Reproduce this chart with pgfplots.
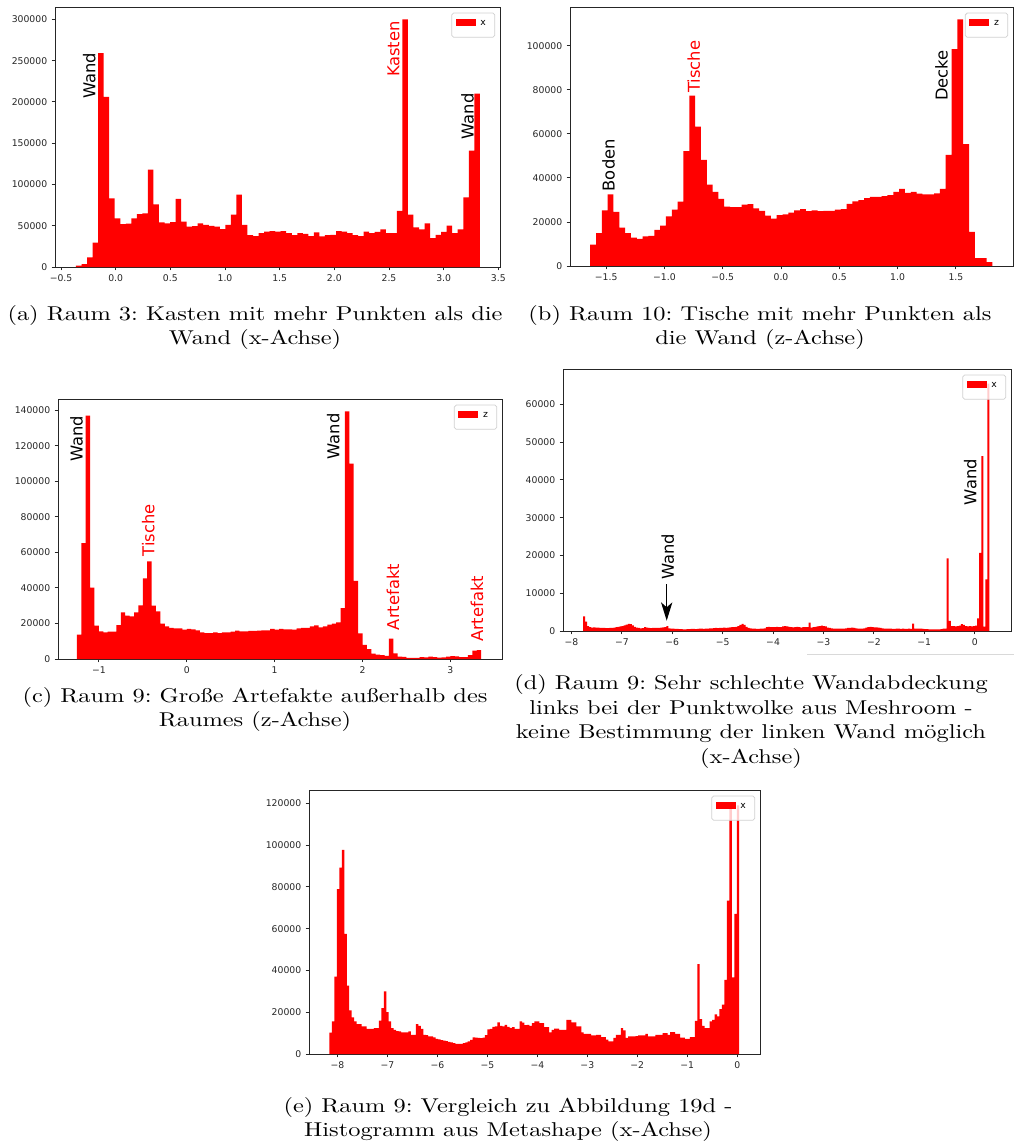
\documentclass[border=0pt]{standalone}
\usepackage{fontspec}
\usepackage{pgfplots}
\pgfplotsset{compat=1.18}
\usepackage{pgfplotstable}
\usetikzlibrary{arrows.meta}
\newfontfamily\djv{DejaVu Sans}
\newcommand\tf{\djv\fontsize{3.8pt}{4.5pt}\selectfont}
\newcommand\af{\djv\fontsize{6.7pt}{8pt}\selectfont}
\newcommand\cf{\fontsize{10pt}{12pt}\selectfont\frenchspacing}

% (a) Raum 3, x-axis histogram, 73 bins
\pgfplotstableread[row sep=\\]{y\\
1600\\ 3600\\ 11700\\ 29500\\ 259000\\ 206000\\ 83000\\ 59000\\ 52000\\ 52500\\
59000\\ 64000\\ 65000\\ 118000\\ 76000\\ 54000\\ 53000\\ 54500\\ 82500\\ 55000\\
49000\\ 49500\\ 53000\\ 51000\\ 49700\\ 49000\\ 46000\\ 51000\\ 63500\\ 87700\\
51000\\ 38500\\ 37500\\ 41000\\ 43000\\ 43500\\ 43000\\ 43500\\ 41000\\ 38500\\
41000\\ 40000\\ 37500\\ 42000\\ 37000\\ 38500\\ 39000\\ 43500\\ 43000\\ 41000\\
38500\\ 37500\\ 43000\\ 41000\\ 42500\\ 45500\\ 41000\\ 41000\\ 68000\\ 300000\\
63500\\ 48000\\ 45500\\ 53000\\ 35000\\ 39000\\ 42500\\ 50000\\ 41000\\ 45500\\
84500\\ 141000\\ 210000\\ 210000\\
}\dataA

% (b) Raum 10, z-axis histogram, 69 bins
\pgfplotstableread[row sep=\\]{y\\
9700\\ 14900\\ 25300\\ 32500\\ 24600\\ 17400\\ 14900\\ 12900\\ 12300\\ 13500\\
13700\\ 16400\\ 18400\\ 22600\\ 25600\\ 29300\\ 52200\\ 77400\\ 63300\\ 48200\\
37000\\ 33700\\ 30500\\ 27000\\ 26700\\ 26700\\ 27900\\ 28100\\ 26200\\ 25000\\
22900\\ 21500\\ 23100\\ 23500\\ 24300\\ 25300\\ 25900\\ 24900\\ 25300\\ 24900\\
25000\\ 25000\\ 25600\\ 25900\\ 28200\\ 29400\\ 29900\\ 30900\\ 31400\\ 31400\\
31700\\ 32200\\ 33700\\ 35000\\ 33200\\ 33700\\ 32900\\ 32500\\ 32500\\ 33000\\
35000\\ 50500\\ 98600\\ 112100\\ 55400\\ 15500\\ 3600\\ 3600\\ 1800\\ 1800\\
}\dataB

% (c) Raum 9, z-axis histogram, 92 bins
\pgfplotstableread[row sep=\\]{y\\
13700\\ 65300\\ 137000\\ 40200\\ 18800\\ 15600\\ 15000\\ 15400\\ 15400\\ 19100\\
26300\\ 24400\\ 24000\\ 26300\\ 30200\\ 45400\\ 55000\\ 30000\\ 26800\\ 19900\\
18400\\ 17500\\ 17300\\ 17300\\ 16500\\ 16900\\ 16700\\ 16100\\ 15000\\ 14600\\
14600\\ 15000\\ 14600\\ 15000\\ 15000\\ 15400\\ 16000\\ 15600\\ 15600\\ 15800\\
15800\\ 16000\\ 16100\\ 16100\\ 16900\\ 16500\\ 16900\\ 16700\\ 16700\\ 16500\\
17300\\ 17500\\ 17500\\ 18400\\ 19000\\ 17800\\ 18400\\ 19300\\ 19900\\ 20600\\
28700\\ 139500\\ 110000\\ 44000\\ 14500\\ 8000\\ 5500\\ 3000\\ 2500\\ 2200\\
1800\\ 11500\\ 3200\\ 1300\\ 1200\\ 600\\ 600\\ 700\\ 1000\\ 900\\
1300\\ 1100\\ 800\\ 900\\ 1300\\ 1600\\ 1500\\ 1000\\ 1100\\ 2200\\
4700\\ 5000\\ 5000\\
}\dataC

% (d) Raum 9 Meshroom, x-axis histogram, 200 bins
\pgfplotstableread[row sep=\\]{y\\
3880\\ 2500\\ 1300\\ 1000\\ 900\\ 950\\ 900\\ 880\\ 850\\ 800\\
800\\ 780\\ 750\\ 800\\ 850\\ 900\\ 1000\\ 1100\\ 1200\\ 1300\\
1500\\ 1700\\ 1900\\ 1800\\ 1500\\ 1100\\ 900\\ 800\\ 700\\ 750\\
1000\\ 900\\ 800\\ 750\\ 800\\ 850\\ 800\\ 850\\ 900\\ 950\\
1000\\ 1300\\ 700\\ 600\\ 600\\ 550\\ 550\\ 500\\ 500\\ 450\\
450\\ 500\\ 500\\ 550\\ 550\\ 500\\ 550\\ 600\\ 600\\ 550\\
600\\ 650\\ 700\\ 700\\ 750\\ 800\\ 750\\ 800\\ 850\\ 900\\
850\\ 900\\ 950\\ 1000\\ 1050\\ 1100\\ 1300\\ 1600\\ 1900\\ 1600\\
1100\\ 800\\ 700\\ 650\\ 600\\ 550\\ 550\\ 600\\ 600\\ 700\\
1000\\ 1100\\ 1000\\ 1050\\ 1000\\ 1100\\ 1000\\ 1000\\ 1200\\ 1300\\
1200\\ 1100\\ 1000\\ 950\\ 1000\\ 1100\\ 1000\\ 900\\ 1000\\ 1050\\
1000\\ 2200\\ 900\\ 1000\\ 1100\\ 1200\\ 1300\\ 1400\\ 1300\\ 1200\\
900\\ 800\\ 700\\ 650\\ 650\\ 600\\ 600\\ 600\\ 650\\ 700\\
800\\ 850\\ 900\\ 800\\ 700\\ 650\\ 600\\ 650\\ 700\\ 900\\
1000\\ 1100\\ 1000\\ 950\\ 950\\ 900\\ 850\\ 700\\ 650\\ 600\\
600\\ 600\\ 550\\ 550\\ 600\\ 600\\ 550\\ 600\\ 550\\ 550\\
600\\ 550\\ 1940\\ 600\\ 650\\ 600\\ 600\\ 550\\ 500\\ 500\\
450\\ 450\\ 450\\ 400\\ 400\\ 450\\ 500\\ 600\\ 600\\ 19240\\
2700\\ 1300\\ 1300\\ 1250\\ 1300\\ 1400\\ 1850\\ 1600\\ 1300\\ 1200\\
1300\\ 1250\\ 1300\\ 1400\\ 3350\\ 20700\\ 46300\\ 1150\\ 13700\\ 65500\\
65500\\
}\dataD

% (e) Raum 9 Metashape, x-axis histogram, 166 bins
\pgfplotstableread[row sep=\\]{y\\
10200\\ 15600\\ 37100\\ 78900\\ 89300\\ 97700\\ 57500\\ 32800\\ 20900\\ 17500\\
15600\\ 14300\\ 14300\\ 13200\\ 13200\\ 12000\\ 12000\\ 12000\\ 12400\\ 12400\\
16000\\ 22000\\ 30000\\ 20000\\ 15600\\ 12400\\ 11600\\ 11000\\ 10800\\ 10400\\
10400\\ 10400\\ 10800\\ 9200\\ 9200\\ 14300\\ 13500\\ 12000\\ 9200\\ 9000\\
8500\\ 8400\\ 8000\\ 7200\\ 7000\\ 6600\\ 6400\\ 6200\\ 5800\\ 5600\\
5200\\ 4900\\ 4900\\ 4900\\ 5200\\ 5600\\ 6100\\ 6800\\ 8000\\ 7800\\
7700\\ 7600\\ 7900\\ 9000\\ 11800\\ 12000\\ 13000\\ 13200\\ 15100\\ 13500\\
13200\\ 14000\\ 13000\\ 12500\\ 12900\\ 12000\\ 12000\\ 15600\\ 15000\\ 13800\\
14000\\ 13500\\ 14800\\ 15600\\ 15600\\ 14800\\ 14800\\ 12900\\ 12900\\ 10400\\
11600\\ 12100\\ 12100\\ 11600\\ 11600\\ 11600\\ 16400\\ 16400\\ 15100\\ 15100\\
13200\\ 13200\\ 10400\\ 9700\\ 9700\\ 9700\\ 8900\\ 8900\\ 9200\\ 9200\\
8100\\ 8100\\ 6900\\ 6100\\ 6100\\ 7700\\ 9200\\ 9200\\ 12400\\ 11300\\
7700\\ 8400\\ 8400\\ 8400\\ 8600\\ 8900\\ 8900\\ 8900\\ 9700\\ 8400\\
8400\\ 8400\\ 9200\\ 9200\\ 9200\\ 10000\\ 10000\\ 9200\\ 10500\\ 10500\\
9600\\ 9600\\ 7800\\ 7800\\ 7300\\ 7300\\ 8100\\ 8100\\ 15900\\ 43000\\
16700\\ 13500\\ 12400\\ 12400\\ 15600\\ 16400\\ 19000\\ 18000\\ 21500\\ 23600\\
35500\\ 73500\\ 120400\\ 36700\\ 67100\\ 119000\\ 119000\\
}\dataE

\pgfplotsset{
  histo/.style={
    scale only axis,
    anchor=south west,
    ymin=0,
    axis line style={black!85, line width=0.4pt},
    every tick/.style={black!85, line width=0.4pt},
    tick align=outside,
    major tick length=1.4pt,
    xtick pos=bottom, ytick pos=left,
    scaled x ticks=false, scaled y ticks=false,
    xticklabel style={font=\tf, text=black!85, inner sep=0pt, yshift=-1.6pt},
    yticklabel style={font=\tf, text=black!85, inner sep=0pt, xshift=-1.6pt},
    legend style={at={(1,1)}, anchor=north east, xshift=-2pt, yshift=-2.3pt,
      draw=black!18, line width=0.3pt, rounded corners=0.8pt, fill=white,
      fill opacity=0.8, text opacity=1, font=\tf, inner xsep=1.6pt, inner ysep=1.2pt,
      cells={anchor=west}},
  },
  histplot/.style={const plot, fill=red, draw=none,
    legend image code/.code={\fill[red, fill opacity=1, sharp corners] (0pt,-0.15pt) rectangle (8.2pt,2.35pt);}},
}

\begin{document}
\begin{tikzpicture}[x=0.41pt, y=-0.41pt]
\path[use as bounding box] (0,0) rectangle (1014,1144);

% ---------- (a)
\begin{axis}[histo,
  at={(55*0.41pt,-267*0.41pt)}, width=182.45pt, height=106.6pt,
  xmin=-0.555, xmax=3.515, ymax=315000,
  xtick={-0.5,0,0.5,1,1.5,2,2.5,3,3.5},
  xticklabels={−0.5,0.0,0.5,1.0,1.5,2.0,2.5,3.0,3.5},
  ytick={0,50000,100000,150000,200000,250000,300000},
  yticklabels={0,50000,100000,150000,200000,250000,300000}]
\addplot[histplot] table[x expr={-0.363+0.0506*\coordindex}, y=y] {\dataA} \closedcycle;
\addlegendentry{x}
\node[rotate=90, font=\af] at (axis cs:-0.241,231700) {Wand};
\node[rotate=90, font=\af, text=red] at (axis cs:2.541,264000) {Kasten};
\node[rotate=90, font=\af] at (axis cs:3.218,182300) {Wand};
\end{axis}

% ---------- (b)
\begin{axis}[histo,
  at={(570*0.41pt,-266*0.41pt)}, width=181.63pt, height=106.19pt,
  xmin=-1.81, xmax=1.99, ymax=117700,
  xtick={-1.5,-1,-0.5,0,0.5,1,1.5},
  xticklabels={−1.5,−1.0,−0.5,0.0,0.5,1.0,1.5},
  ytick={0,20000,40000,60000,80000,100000},
  yticklabels={0,20000,40000,60000,80000,100000}]
\addplot[histplot] table[x expr={-1.637+0.05*\coordindex}, y=y] {\dataB} \closedcycle;
\addlegendentry{z}
\node[rotate=90, font=\af] at (axis cs:-1.48,45800) {Boden};
\node[rotate=90, font=\af, text=red] at (axis cs:-0.749,90500) {Tische};
\node[rotate=90, font=\af] at (axis cs:1.376,86600) {Decke};
\end{axis}

% ---------- (c)
\begin{axis}[histo,
  at={(58*0.41pt,-659*0.41pt)}, width=182.04pt, height=106.6pt,
  xmin=-1.465, xmax=3.587, ymax=146400,
  xtick={-1,0,1,2,3},
  xticklabels={−1,0,1,2,3},
  ytick={0,20000,40000,60000,80000,100000,120000,140000},
  yticklabels={0,20000,40000,60000,80000,100000,120000,140000}]
\addplot[histplot] table[x expr={-1.25+0.05*\coordindex}, y=y] {\dataC} \closedcycle;
\addlegendentry{z}
\node[rotate=90, font=\af] at (axis cs:-1.254,124000) {Wand};
\node[rotate=90, font=\af, text=red] at (axis cs:-0.439,72600) {Tische};
\node[rotate=90, font=\af] at (axis cs:1.666,125400) {Wand};
\node[rotate=90, font=\af, text=red] at (axis cs:2.348,34900) {Artefakt};
\node[rotate=90, font=\af, text=red] at (axis cs:3.304,28200) {Artefakt};
\end{axis}

% ---------- (d)
\begin{axis}[histo,
  at={(563*0.41pt,-631*0.41pt)}, width=183.68pt, height=107.42pt,
  xmin=-8.167, xmax=0.72, ymax=69360,
  xtick={-8,-7,-6,-5,-4,-3,-2,-1,0},
  xticklabels={−8,−7,−6,−5,−4,−3,−2,−1,0},
  ytick={0,10000,20000,30000,40000,50000,60000},
  yticklabels={0,10000,20000,30000,40000,50000,60000}]
\addplot[histplot] table[x expr={-7.769+0.0403*\coordindex}, y=y] {\dataD} \closedcycle;
\addlegendentry{x}
\node[rotate=90, font=\af] at (axis cs:-0.086,39400) {Wand};
\node[rotate=90, font=\af] at (axis cs:-6.09,19670) {Wand};
\draw[-{Stealth[length=7.5pt,width=4.6pt,inset=2pt]}, line width=0.55pt]
  (axis cs:-6.11,12440) -- (axis cs:-6.11,2730);
\end{axis}
\draw[black!15, line width=0.4pt] (807,654) -- (1014,654);

% ---------- (e)
\begin{axis}[histo,
  at={(309*0.41pt,-1054*0.41pt)}, width=184.91pt, height=108.24pt,
  xmin=-8.57, xmax=0.456, ymax=126400,
  xtick={-8,-7,-6,-5,-4,-3,-2,-1,0},
  xticklabels={−8,−7,−6,−5,−4,−3,−2,−1,0},
  ytick={0,20000,40000,60000,80000,100000,120000},
  yticklabels={0,20000,40000,60000,80000,100000,120000}]
\addplot[histplot] table[x expr={-8.16+0.0494*\coordindex}, y=y] {\dataE} \closedcycle;
\addlegendentry{x}
\end{axis}

% ---------- captions
\begin{scope}[every node/.style={anchor=base, font=\cf, inner sep=0pt, yscale=0.82, transform shape}]
\node at (255,320) {(a) Raum 3: Kasten mit mehr Punkten als die};
\node at (255,344) {Wand (x-Achse)};
\node at (760,320) {(b) Raum 10: Tische mit mehr Punkten als};
\node at (760,344) {die Wand (z-Achse)};
\node at (255,702) {(c) Raum 9: Große Artefakte außerhalb des};
\node at (255,726) {Raumes (z-Achse)};
\node at (751,689) {(d) Raum 9: Sehr schlechte Wandabdeckung};
\node at (751,714) {links bei der Punktwolke aus Meshroom -};
\node at (751,738) {keine Bestimmung der linken Wand möglich};
\node at (751,763) {(x-Achse)};
\node at (508,1112) {(e) Raum 9: Vergleich zu Abbildung 19d -};
\node at (508,1136) {Histogramm aus Metashape (x-Achse)};
\end{scope}
\end{tikzpicture}
\end{document}
